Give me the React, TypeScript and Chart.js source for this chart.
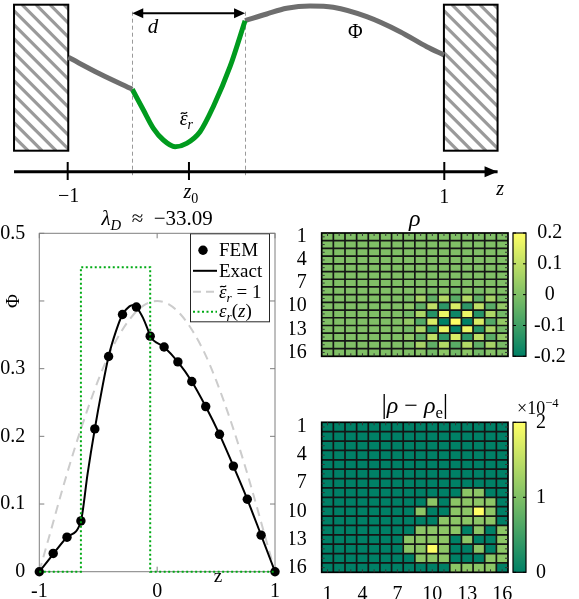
import React, { useEffect, useRef } from 'react';
import { Chart, registerables } from 'chart.js';

Chart.register(...registerables);

const SERIF = '"Liberation Serif", "DejaVu Serif", serif';

// ================= Top schematic =================
const wallLeftZ = [-1.285, -0.997];
const wallRightZ = [0.998, 1.283];
const wallV = [0.21, 1.67];
const phiLeftZ = [-0.997, -0.828, -0.657];
const phiLeftV = [1.144, 0.977, 0.824];
const epsCurveZ = [-0.657, -0.598, -0.545, -0.492, -0.43, -0.368, -0.297, -0.227, -0.138, -0.058];
const epsCurveV = [0.824, 0.617, 0.434, 0.317, 0.25, 0.284, 0.4, 0.65, 1.05, 1.51];
const phiRightZ = [-0.058, 0.057, 0.163, 0.287, 0.41, 0.588, 0.765, 0.907, 0.998];
const phiRightV = [1.51, 1.577, 1.634, 1.657, 1.644, 1.55, 1.4, 1.25, 1.167];
const axisZ = [-1.285, 1.283];
const axisTickZ = [-1, -0.356, 1];
const dielectricZ = [-0.657, -0.058];

// ================= Phi(z) plot =================
const femZ = [-1, -0.882, -0.765, -0.647, -0.529, -0.412, -0.294, -0.176, -0.059, 0.059, 0.176, 0.294, 0.412, 0.529, 0.647, 0.765, 0.882, 1];
const femPhi = [0, 0.027, 0.051, 0.075, 0.211, 0.318, 0.38, 0.391, 0.348, 0.332, 0.31, 0.281, 0.244, 0.203, 0.156, 0.107, 0.054, 0];
const exactZ = [-1, -0.882, -0.765, -0.647, -0.59, -0.529, -0.47, -0.412, -0.35, -0.294, -0.235, -0.2, -0.176, -0.12, -0.08, -0.059, 0.059, 0.176, 0.294, 0.412, 0.529, 0.647, 0.765, 0.882, 1];
const exactPhi = [0, 0.026, 0.051, 0.075, 0.145, 0.211, 0.268, 0.318, 0.355, 0.38, 0.392, 0.394, 0.391, 0.375, 0.358, 0.348, 0.332, 0.31, 0.281, 0.244, 0.203, 0.156, 0.107, 0.054, 0];
const uniformZ = [-1, -0.9, -0.8, -0.7, -0.6, -0.5, -0.4, -0.3, -0.2, -0.1, 0, 0.1, 0.2, 0.3, 0.4, 0.5, 0.6, 0.7, 0.8, 0.9, 1];
const uniformPhi = [0, 0.062, 0.124, 0.182, 0.235, 0.283, 0.324, 0.356, 0.38, 0.395, 0.4, 0.395, 0.38, 0.356, 0.324, 0.283, 0.235, 0.182, 0.124, 0.062, 0];
const epsStepZ = [-1, -0.647, -0.647, -0.059, -0.059, 1];
const epsStepVal = [0, 0, 0.45, 0.45, 0, 0];
const plotXTicks = [-1, 0, 1];
const plotXTickLabels = ['-1', '0', '1'];
const plotYTicks = [0, 0.1, 0.2, 0.3, 0.4, 0.5];
const plotYTickLabels = ['0', '0.1', '0.2', '0.3', '', '0.5'];

// ================= Heatmaps =================
const gridCols = [1, 2, 3, 4, 5, 6, 7, 8, 9, 10, 11, 12, 13, 14, 15, 16];
const gridRows = [1, 2, 3, 4, 5, 6, 7, 8, 9, 10, 11, 12, 13, 14, 15, 16];
const gridTicks = [1, 4, 7, 10, 13, 16];

const rho = [
  [0, 0, 0, 0, 0, 0, 0, 0, 0, 0, 0, 0, 0, 0, 0, 0],
  [0, 0, 0, 0, 0, 0, 0, 0, 0, 0, 0, 0, 0, 0, 0, 0],
  [0, 0, 0, 0, 0, 0, 0, 0, 0, 0, 0, 0, 0, 0, 0, 0],
  [0, 0, 0, 0, 0, 0, 0, 0, 0, 0, 0, 0, 0, 0, 0, 0],
  [0, 0, 0, 0, 0, 0, 0, 0, 0, 0, 0, 0, 0, 0, 0, 0],
  [0, 0, 0, 0, 0, 0, 0, 0, 0, 0, 0, 0, 0, 0, 0, 0],
  [0, 0, 0, 0, 0, 0, 0, 0, 0, 0, 0, 0, 0, 0, 0, 0],
  [0, 0, 0, 0, 0, 0, 0, 0, 0.01, -0.01, 0.01, -0.02, 0.01, -0.01, 0.01, 0],
  [0, 0, 0, 0, 0, 0, 0, -0.01, 0.06, -0.05, 0.08, -0.06, 0.08, -0.05, 0.06, -0.01],
  [0, 0, 0, 0, 0, 0, 0, 0.02, -0.05, 0.1, -0.13, 0.14, -0.13, 0.1, -0.06, 0.03],
  [0, 0, 0, 0, 0, 0, 0, -0.02, 0.07, -0.14, 0.17, -0.18, 0.17, -0.14, 0.07, -0.02],
  [0, 0, 0, 0, 0, 0, 0, 0.03, -0.07, 0.14, -0.2, 0.2, -0.2, 0.14, -0.07, 0.03],
  [0, 0, 0, 0, 0, 0, 0, -0.02, 0.07, -0.14, 0.17, -0.19, 0.17, -0.14, 0.07, -0.02],
  [0, 0, 0, 0, 0, 0, 0, 0.02, -0.05, 0.1, -0.13, 0.14, -0.13, 0.1, -0.06, 0.03],
  [0, 0, 0, 0, 0, 0, 0, -0.01, 0.06, -0.05, 0.08, -0.06, 0.08, -0.05, 0.06, -0.01],
  [0, 0, 0, 0, 0, 0, 0, 0, 0.01, -0.02, 0.02, -0.02, 0.02, -0.02, 0.01, 0],
];
const rhoTicks = [-0.2, -0.1, 0, 0.1, 0.2];
const rhoTickLabels = ['-0.2', '-0.1', '0', '0.1', '0.2'];

// |rho - rho_e| in units of 1e-4
const rhoErr = [
  [0, 0, 0, 0, 0, 0, 0, 0, 0, 0, 0, 0, 0, 0, 0, 0],
  [0, 0, 0, 0, 0, 0, 0, 0, 0, 0, 0, 0, 0, 0, 0, 0],
  [0, 0, 0, 0, 0, 0, 0, 0, 0, 0, 0, 0, 0, 0, 0, 0],
  [0, 0, 0, 0, 0, 0, 0, 0, 0, 0, 0, 0, 0, 0, 0, 0],
  [0, 0, 0, 0, 0, 0, 0, 0, 0, 0, 0, 0, 0, 0, 0, 0],
  [0, 0, 0, 0, 0, 0, 0, 0, 0, 0, 0, 0, 0, 0, 0, 0],
  [0, 0, 0, 0, 0, 0, 0, 0, 0, 0, 0, 0, 0, 0, 0, 0],
  [0, 0, 0, 0, 0, 0, 0, 0, 0, 0, 0, 0, 1.1, 1.1, 0, 0],
  [0, 0, 0, 0, 0, 0, 0, 0, 0, 1.1, 0, 1.1, 1.1, 1.1, 1.1, 0],
  [0, 0, 0, 0, 0, 0, 0, 0, 1.1, 0, 0, 1.1, 1.1, 2.0, 1.1, 0],
  [0, 0, 0, 0, 0, 0, 0, 0, 0, 0, 1.1, 1.1, 1.1, 1.1, 1.1, 0],
  [0, 0, 0, 0, 0, 0, 0, 0, 1.1, 1.1, 1.1, 1.1, 0, 1.1, 0, 1.1],
  [0, 0, 0, 0, 0, 0, 0, 1.1, 1.1, 1.1, 1.1, 0, 1.1, 0, 0, 1.1],
  [0, 0, 0, 0, 0, 0, 0, 1.1, 1.1, 2.0, 1.1, 0, 0, 1.1, 0, 1.1],
  [0, 0, 0, 0, 0, 0, 0, 0, 1.1, 1.1, 1.1, 0, 0, 0, 1.1, 1.1],
  [0, 0, 0, 0, 0, 0, 0, 0, 0, 0, 0, 1.1, 1.1, 1.1, 1.1, 0],
];
const errTicks = [0, 1, 2];
const errTickLabels = ['0', '1', '2'];

// ================= helpers =================
type Part = { t: string; it?: boolean; sub?: boolean; sup?: boolean; size?: number; tilde?: boolean };

function summer(t: number) {
  const c = Math.max(0, Math.min(1, t));
  return `rgb(${Math.round(255 * c)},${Math.round(127.5 + 127.5 * c)},102)`;
}

function drawParts(ctx: CanvasRenderingContext2D, parts: Part[], x: number, base: number, size: number, align: 'left' | 'center' | 'right' = 'center') {
  ctx.save();
  ctx.fillStyle = '#000';
  ctx.textBaseline = 'alphabetic';
  ctx.textAlign = 'left';
  const font = (p: Part) => `${p.it ? 'italic ' : ''}${(p.size ?? size) * (p.sub || p.sup ? 0.7 : 1)}px ${SERIF}`;
  const ws = parts.map((p) => {
    ctx.font = font(p);
    return ctx.measureText(p.t).width;
  });
  const total = ws.reduce((a, b) => a + b, 0);
  let cx = align === 'center' ? x - total / 2 : align === 'right' ? x - total : x;
  parts.forEach((p, i) => {
    ctx.font = font(p);
    const dy = p.sub ? size * 0.22 : p.sup ? -size * 0.42 : 0;
    ctx.fillText(p.t, cx, base + dy);
    if (p.tilde) {
      const w = ws[i];
      const ty = base - size * 0.6;
      const x0 = cx + w * 0.15;
      const x1 = cx + w * 0.95;
      ctx.beginPath();
      ctx.lineWidth = Math.max(1, size / 16);
      ctx.strokeStyle = '#000';
      ctx.moveTo(x0, ty + size * 0.04);
      ctx.bezierCurveTo(x0 + (x1 - x0) * 0.35, ty - size * 0.1, x0 + (x1 - x0) * 0.6, ty + size * 0.12, x1, ty - size * 0.04);
      ctx.stroke();
    }
    cx += ws[i];
  });
  ctx.restore();
}

const xy = (zs: number[], vs: number[]) => zs.map((z, i) => ({ x: z, y: vs[i] }));

const zeroPad = (s: any) => {
  s.paddingLeft = 0;
  s.paddingRight = 0;
  s.paddingTop = 0;
  s.paddingBottom = 0;
};

// ================= charts =================
function makeSchematic(canvas: HTMLCanvasElement) {
  const plugin = {
    id: 'schem',
    beforeDatasetsDraw(chart: any) {
      const { ctx, scales } = chart;
      const x = scales.x;
      const y = scales.y;
      [wallLeftZ, wallRightZ].forEach((w) => {
        const l = x.getPixelForValue(w[0]);
        const r = x.getPixelForValue(w[1]);
        const t = y.getPixelForValue(wallV[1]);
        const b = y.getPixelForValue(wallV[0]);
        ctx.save();
        ctx.fillStyle = '#fff';
        ctx.fillRect(l, t, r - l, b - t);
        ctx.beginPath();
        ctx.rect(l, t, r - l, b - t);
        ctx.clip();
        ctx.strokeStyle = '#9a9a9a';
        ctx.lineWidth = 3.2;
        const h = b - t;
        for (let c = l - h; c < r + 4; c += 14) {
          ctx.beginPath();
          ctx.moveTo(c, t);
          ctx.lineTo(c + h, b);
          ctx.stroke();
        }
        ctx.restore();
        ctx.save();
        ctx.strokeStyle = '#000';
        ctx.lineWidth = 2;
        ctx.strokeRect(l, t, r - l, b - t);
        ctx.restore();
      });
      // dashed guides
      ctx.save();
      ctx.strokeStyle = '#9a9a9a';
      ctx.lineWidth = 1;
      ctx.setLineDash([4, 3]);
      dielectricZ.forEach((z) => {
        const px = Math.round(x.getPixelForValue(z)) + 0.5;
        ctx.beginPath();
        ctx.moveTo(px, y.getPixelForValue(1.6));
        ctx.lineTo(px, y.getPixelForValue(-0.035));
        ctx.stroke();
      });
      ctx.restore();
    },
    afterDatasetsDraw(chart: any) {
      const { ctx, scales } = chart;
      const x = scales.x;
      const y = scales.y;
      ctx.save();
      // axis arrowhead
      const tip = x.getPixelForValue(axisZ[1]);
      const ay = y.getPixelForValue(0);
      ctx.fillStyle = '#000';
      ctx.beginPath();
      ctx.moveTo(tip, ay);
      ctx.lineTo(tip - 13, ay - 5.5);
      ctx.lineTo(tip - 13, ay + 5.5);
      ctx.closePath();
      ctx.fill();
      // ticks
      ctx.strokeStyle = '#000';
      ctx.lineWidth = 2;
      axisTickZ.forEach((z) => {
        const px = x.getPixelForValue(z);
        ctx.beginPath();
        ctx.moveTo(px, y.getPixelForValue(0.097));
        ctx.lineTo(px, y.getPixelForValue(-0.083));
        ctx.stroke();
      });
      // d double arrow
      const dl = x.getPixelForValue(dielectricZ[0]);
      const dr = x.getPixelForValue(dielectricZ[1]);
      const dy = y.getPixelForValue(1.584);
      ctx.lineWidth = 2;
      ctx.beginPath();
      ctx.moveTo(dl + 6, dy);
      ctx.lineTo(dr - 6, dy);
      ctx.stroke();
      ctx.beginPath();
      ctx.moveTo(dl, dy);
      ctx.lineTo(dl + 11, dy - 5);
      ctx.lineTo(dl + 11, dy + 5);
      ctx.closePath();
      ctx.fill();
      ctx.beginPath();
      ctx.moveTo(dr, dy);
      ctx.lineTo(dr - 11, dy - 5);
      ctx.lineTo(dr - 11, dy + 5);
      ctx.closePath();
      ctx.fill();
      ctx.restore();
      // labels
      drawParts(ctx, [{ t: '−1' }], x.getPixelForValue(axisTickZ[0]) + 1, y.getPixelForValue(-0.3), 20);
      drawParts(ctx, [{ t: 'z', it: true }, { t: '0', sub: true }], x.getPixelForValue(axisTickZ[1]) + 2, y.getPixelForValue(-0.265), 20);
      drawParts(ctx, [{ t: '1' }], x.getPixelForValue(axisTickZ[2]), y.getPixelForValue(-0.31), 20);
      drawParts(ctx, [{ t: 'z', it: true }], x.getPixelForValue(1.296), y.getPixelForValue(-0.235), 20);
      drawParts(ctx, [{ t: 'd', it: true }], x.getPixelForValue(-0.547), y.getPixelForValue(1.385), 21);
      drawParts(ctx, [{ t: 'Φ' }], x.getPixelForValue(0.527), y.getPixelForValue(1.335), 20);
      drawParts(ctx, [{ t: 'ε', it: true, tilde: true }, { t: 'r', it: true, sub: true }], x.getPixelForValue(-0.37), y.getPixelForValue(0.467), 20);
    },
  };
  return new Chart(canvas, {
    type: 'line',
    data: {
      datasets: [
        { data: xy(phiLeftZ, phiLeftV), borderColor: '#6e6e6e', borderWidth: 5, pointRadius: 0, cubicInterpolationMode: 'monotone' },
        { data: xy(epsCurveZ, epsCurveV), borderColor: 'rgb(0,155,30)', borderWidth: 5, pointRadius: 0, cubicInterpolationMode: 'monotone' },
        { data: xy(phiRightZ, phiRightV), borderColor: '#6e6e6e', borderWidth: 5, pointRadius: 0, cubicInterpolationMode: 'monotone' },
        { data: xy(axisZ, [0, 0]), borderColor: '#000', borderWidth: 3, pointRadius: 0 },
      ],
    } as any,
    options: {
      animation: false,
      responsive: false,
      devicePixelRatio: 1,
      events: [],
      layout: { padding: 0, autoPadding: false },
      plugins: { legend: { display: false }, tooltip: { enabled: false } },
      scales: {
        x: { type: 'linear', display: false, min: -1.3595, max: 1.7154 },
        y: { type: 'linear', display: false, min: -0.333, max: 1.717 },
      },
    } as any,
    plugins: [plugin],
  });
}

function makePlot(canvas: HTMLCanvasElement) {
  const axisGrey = '#7f7f7f';
  const plugin = {
    id: 'plotDeco',
    beforeDatasetsDraw(chart: any) {
      const { ctx, chartArea: a, scales } = chart;
      ctx.save();
      ctx.strokeStyle = axisGrey;
      ctx.lineWidth = 1;
      ctx.strokeRect(a.left, a.top, a.right - a.left, a.bottom - a.top);
      plotYTicks.forEach((v) => {
        const py = scales.y.getPixelForValue(v);
        ctx.beginPath();
        ctx.moveTo(a.left, py);
        ctx.lineTo(a.left + 5, py);
        ctx.moveTo(a.right, py);
        ctx.lineTo(a.right - 5, py);
        ctx.stroke();
      });
      plotXTicks.forEach((v) => {
        const px = scales.x.getPixelForValue(v);
        ctx.beginPath();
        ctx.moveTo(px, a.bottom);
        ctx.lineTo(px, a.bottom - 5);
        ctx.moveTo(px, a.top);
        ctx.lineTo(px, a.top + 5);
        ctx.stroke();
      });
      ctx.restore();
    },
    afterDraw(chart: any) {
      const { ctx, chartArea: a } = chart;
      // title
      drawParts(ctx, [{ t: 'λ', it: true }, { t: 'D', it: true, sub: true }, { t: '\u2002≈\u2002−33.09' }], (a.left + a.right) / 2, 20, 21);
      // y label
      ctx.save();
      ctx.translate(19, 96);
      ctx.rotate(-Math.PI / 2);
      drawParts(ctx, [{ t: 'Φ' }], 0, 0, 19);
      ctx.restore();
      // x label
      drawParts(ctx, [{ t: 'z' }], 218, 377, 19);
      // legend
      const L = a.right - 85;
      const R = a.right - 5;
      const T = a.top;
      const B = a.top + 89;
      ctx.save();
      ctx.fillStyle = '#fff';
      ctx.fillRect(L, T, R - L, B - T);
      ctx.strokeStyle = '#262626';
      ctx.lineWidth = 1;
      ctx.strokeRect(L + 0.5, T + 0.5, R - L - 1, B - T - 1);
      const s0 = L + 3;
      const s1 = L + 27;
      const ys = [T + 17, T + 37.5, T + 58.5, T + 78.5];
      ctx.fillStyle = '#000';
      ctx.beginPath();
      ctx.arc((s0 + s1) / 2 - 2, ys[0], 4.7, 0, Math.PI * 2);
      ctx.fill();
      ctx.lineWidth = 2;
      ctx.strokeStyle = '#000';
      ctx.beginPath();
      ctx.moveTo(s0, ys[1]);
      ctx.lineTo(s1, ys[1]);
      ctx.stroke();
      ctx.strokeStyle = '#cccccc';
      ctx.setLineDash([8, 5]);
      ctx.beginPath();
      ctx.moveTo(s0, ys[2]);
      ctx.lineTo(s1, ys[2]);
      ctx.stroke();
      ctx.strokeStyle = 'rgb(0,170,20)';
      ctx.setLineDash([2, 2.5]);
      ctx.beginPath();
      ctx.moveTo(s0, ys[3]);
      ctx.lineTo(s1, ys[3]);
      ctx.stroke();
      ctx.restore();
      const tx = s1 + 2;
      drawParts(ctx, [{ t: 'FEM' }], tx, ys[0] + 6, 19, 'left');
      drawParts(ctx, [{ t: 'Exact' }], tx, ys[1] + 6, 19, 'left');
      drawParts(ctx, [{ t: 'ε', it: true, tilde: true }, { t: 'r', it: true, sub: true }, { t: ' = 1' }], tx, ys[2] + 6, 19, 'left');
      drawParts(ctx, [{ t: 'ε', it: true }, { t: 'r', it: true, sub: true }, { t: '(' }, { t: 'z', it: true }, { t: ')' }], tx, ys[3] + 5, 19, 'left');
    },
  };
  return new Chart(canvas, {
    type: 'line',
    data: {
      datasets: [
        { label: 'eps', data: xy(epsStepZ, epsStepVal), borderColor: 'rgb(0,170,20)', borderWidth: 2, borderDash: [2, 2.5], pointRadius: 0, order: 0, clip: false },
        { label: 'FEM', data: xy(femZ, femPhi), showLine: false, pointRadius: 4.7, pointBackgroundColor: '#000', pointBorderColor: '#000', pointBorderWidth: 0, order: 1, clip: false },
        { label: 'Exact', data: xy(exactZ, exactPhi), borderColor: '#000', borderWidth: 2, pointRadius: 0, cubicInterpolationMode: 'monotone', order: 2, clip: false },
        { label: 'uniform', data: xy(uniformZ, uniformPhi), borderColor: '#cccccc', borderWidth: 2, borderDash: [9, 6], pointRadius: 0, cubicInterpolationMode: 'monotone', order: 3, clip: false },
      ],
    } as any,
    options: {
      animation: false,
      responsive: false,
      devicePixelRatio: 1,
      events: [],
      layout: { padding: { top: 28.3, right: 20, bottom: 0, left: 0 }, autoPadding: false },
      plugins: { legend: { display: false }, tooltip: { enabled: false } },
      scales: {
        x: {
          type: 'linear',
          min: -1,
          max: 1,
          afterBuildTicks: (s: any) => {
            s.ticks = plotXTicks.map((v) => ({ value: v }));
          },
          afterFit: (s: any) => {
            s.height = 27.3;
            zeroPad(s);
          },
          grid: { display: false },
          border: { display: false },
          ticks: {
            padding: 0,
            color: '#000',
            font: { family: SERIF, size: 20 },
            maxRotation: 0,
            autoSkip: false,
            callback: (_v: any, i: number) => plotXTickLabels[i],
          },
        },
        y: {
          type: 'linear',
          min: 0,
          max: 0.5,
          afterBuildTicks: (s: any) => {
            s.ticks = plotYTicks.map((v) => ({ value: v }));
          },
          afterFit: (s: any) => {
            s.width = 39.3;
            zeroPad(s);
          },
          grid: { display: false },
          border: { display: false },
          ticks: {
            padding: 6,
            color: '#000',
            font: { family: SERIF, size: 20 },
            autoSkip: false,
            callback: (_v: any, i: number) => plotYTickLabels[i],
          },
        },
      },
    } as any,
    plugins: [plugin],
  });
}

interface HeatOpts {
  values: number[][];
  vmin: number;
  vmax: number;
  cbTicks: number[];
  cbLabels: string[];
  cbPad: number;
  showX: boolean;
  title: Part[];
  titleBase: number;
  topPad: number;
  bottomPad: number;
  exponent: boolean;
}

function makeHeatmap(canvas: HTMLCanvasElement, o: HeatOpts) {
  const datasets = gridRows.map((r, i) => ({
    data: gridCols.map(() => [r - 0.5, r + 0.5]),
    backgroundColor: o.values[i].map((v) => summer((v - o.vmin) / (o.vmax - o.vmin))),
    borderWidth: 0,
    grouped: false,
    barPercentage: 1,
    categoryPercentage: 1,
    inflateAmount: 0.5,
  }));
  const plugin = {
    id: 'heatDeco',
    afterDatasetsDraw(chart: any) {
      const { ctx, chartArea: a, scales } = chart;
      const xs = scales.x;
      const ys = scales.y;
      ctx.save();
      // cell edges
      ctx.strokeStyle = '#151515';
      ctx.lineWidth = 1.7;
      for (let i = 1; i < gridCols.length; i++) {
        const px = (xs.getPixelForValue(i - 1) + xs.getPixelForValue(i)) / 2;
        ctx.beginPath();
        ctx.moveTo(px, a.top);
        ctx.lineTo(px, a.bottom);
        ctx.stroke();
      }
      for (let i = 0; i < gridRows.length - 1; i++) {
        const py = ys.getPixelForValue(gridRows[i] + 0.5);
        ctx.beginPath();
        ctx.moveTo(a.left, py);
        ctx.lineTo(a.right, py);
        ctx.stroke();
      }
      ctx.strokeStyle = '#000';
      ctx.lineWidth = 1.7;
      ctx.strokeRect(a.left, a.top, a.right - a.left, a.bottom - a.top);
      // inward ticks
      ctx.lineWidth = 1;
      ctx.strokeStyle = '#333';
      gridCols.forEach((_c, i) => {
        const px = xs.getPixelForValue(i);
        ctx.beginPath();
        ctx.moveTo(px, a.top);
        ctx.lineTo(px, a.top + 3);
        ctx.moveTo(px, a.bottom);
        ctx.lineTo(px, a.bottom - 3);
        ctx.stroke();
      });
      gridRows.forEach((r) => {
        const py = ys.getPixelForValue(r);
        ctx.beginPath();
        ctx.moveTo(a.left, py);
        ctx.lineTo(a.left + 3, py);
        ctx.moveTo(a.right, py);
        ctx.lineTo(a.right - 3, py);
        ctx.stroke();
      });
      // colorbar
      const cb = scales.cb;
      const x0 = a.right + 5;
      const x1 = a.right + 18;
      const top = cb.getPixelForValue(o.vmax);
      const bot = cb.getPixelForValue(o.vmin);
      const g = ctx.createLinearGradient(0, top, 0, bot);
      g.addColorStop(0, summer(1));
      g.addColorStop(1, summer(0));
      ctx.fillStyle = g;
      ctx.fillRect(x0, top, x1 - x0, bot - top);
      ctx.strokeStyle = '#000';
      ctx.lineWidth = 1.2;
      ctx.strokeRect(x0, top, x1 - x0, bot - top);
      ctx.lineWidth = 1;
      o.cbTicks.forEach((v) => {
        const py = cb.getPixelForValue(v);
        ctx.beginPath();
        ctx.moveTo(x0, py);
        ctx.lineTo(x0 + 3, py);
        ctx.moveTo(x1, py);
        ctx.lineTo(x1 - 3, py);
        ctx.stroke();
      });
      ctx.restore();
      drawParts(ctx, o.title, (a.left + a.right) / 2, o.titleBase, 24);
      if (o.exponent) {
        drawParts(ctx, [{ t: '×10' }, { t: '−4', sup: true }], x0 + 4, a.top - 8, 18, 'left');
      }
    },
  };
  return new Chart(canvas, {
    type: 'bar',
    data: { labels: gridCols.map(String), datasets } as any,
    options: {
      animation: false,
      responsive: false,
      devicePixelRatio: 1,
      events: [],
      layout: { padding: { top: o.topPad, bottom: o.bottomPad, left: 0, right: 0 }, autoPadding: false },
      plugins: { legend: { display: false }, tooltip: { enabled: false } },
      scales: {
        x: {
          type: 'category',
          display: o.showX,
          offset: true,
          afterFit: (s: any) => {
            s.height = 26.7;
            zeroPad(s);
          },
          grid: { display: false },
          border: { display: false },
          ticks: {
            padding: 2,
            color: '#000',
            font: { family: SERIF, size: 20 },
            autoSkip: false,
            maxRotation: 0,
            minRotation: 0,
            callback: (_v: any, i: number) => (gridTicks.includes(gridCols[i]) ? String(gridCols[i]) : ''),
          },
        },
        y: {
          type: 'linear',
          reverse: true,
          min: 0.5,
          max: 16.5,
          afterBuildTicks: (s: any) => {
            s.ticks = gridTicks.map((v) => ({ value: v }));
          },
          afterFit: (s: any) => {
            s.width = 31.7;
            zeroPad(s);
          },
          grid: { display: false },
          border: { display: false },
          ticks: {
            padding: 7,
            color: '#000',
            font: { family: SERIF, size: 20 },
            autoSkip: false,
            callback: (v: any) => String(v),
          },
        },
        cb: {
          type: 'linear',
          position: 'right',
          min: o.vmin,
          max: o.vmax,
          afterBuildTicks: (s: any) => {
            s.ticks = o.cbTicks.map((v) => ({ value: v }));
          },
          afterFit: (s: any) => {
            s.width = 71;
            zeroPad(s);
          },
          grid: { display: false },
          border: { display: false },
          ticks: {
            padding: o.cbPad,
            crossAlign: 'center',
            color: '#000',
            font: { family: SERIF, size: 20 },
            autoSkip: false,
            callback: (_v: any, i: number) => o.cbLabels[i],
          },
        },
      },
    } as any,
    plugins: [plugin],
  });
}

export default function App() {
  const r1 = useRef<HTMLCanvasElement>(null);
  const r2 = useRef<HTMLCanvasElement>(null);
  const r3 = useRef<HTMLCanvasElement>(null);
  const r4 = useRef<HTMLCanvasElement>(null);

  useEffect(() => {
    const charts = [
      makeSchematic(r1.current!),
      makePlot(r2.current!),
      makeHeatmap(r3.current!, {
        values: rho,
        vmin: -0.2,
        vmax: 0.2,
        cbTicks: rhoTicks,
        cbLabels: rhoTickLabels,
        cbPad: 18,
        showX: false,
        title: [{ t: 'ρ', it: true }],
        titleBase: 21,
        topPad: 28,
        bottomPad: 9,
        exponent: false,
      }),
      makeHeatmap(r4.current!, {
        values: rhoErr,
        vmin: 0,
        vmax: 2,
        cbTicks: errTicks,
        cbLabels: errTickLabels,
        cbPad: 20,
        showX: true,
        title: [
          { t: '|', size: 27 },
          { t: 'ρ', it: true },
          { t: ' − ' },
          { t: 'ρ', it: true },
          { t: 'e', sub: true },
          { t: '|', size: 27 },
        ],
        titleBase: 21,
        topPad: 30.3,
        bottomPad: 0,
        exponent: true,
      }),
    ];
    return () => charts.forEach((c) => c.destroy());
  }, []);

  const abs = (l: number, t: number, w: number, h: number): React.CSSProperties => ({ position: 'absolute', left: l, top: t, width: w, height: h });

  return (
    <div style={{ position: 'absolute', left: 0, top: 0, width: 579, height: 599, background: '#fff', overflow: 'hidden' }}>
      <canvas ref={r1} width={579} height={205} style={abs(0, 0, 579, 205)} />
      <canvas ref={r2} width={295} height={394} style={abs(0, 205, 295, 394)} />
      <canvas ref={r3} width={289} height={187} style={abs(290, 205, 289, 187)} />
      <canvas ref={r4} width={289} height={207} style={abs(290, 392, 289, 207)} />
    </div>
  );
}
